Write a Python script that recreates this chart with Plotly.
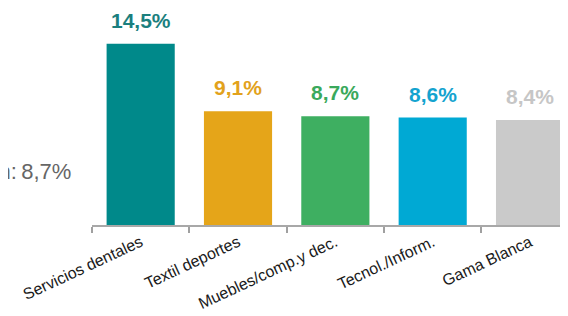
import plotly.graph_objects as go

categories = ["Servicios dentales", "Textil deportes", "Muebles/comp.y dec.", "Tecnol./Inform.", "Gama Blanca"]
values = [14.5, 9.1, 8.7, 8.6, 8.4]
labels = ["14,5%", "9,1%", "8,7%", "8,6%", "8,4%"]
bar_colors = ["#00898A", "#E5A519", "#3EAF61", "#00A9D4", "#CACACA"]
label_colors = ["#1B7F7E", "#E2A21C", "#3AA95C", "#14A3CF", "#C6C6C6"]
mean_text = "Media sección:\u20098,7%"

fig = go.Figure(go.Bar(x=categories, y=values, marker=dict(color=bar_colors, line=dict(width=0)),
                       hoverinfo="skip"))

for c, v, t, col in zip(categories, values, labels, label_colors):
    fig.add_annotation(x=c, y=v, text=f"<b>{t}</b>", showarrow=False, yanchor="bottom",
                       yshift=10, font=dict(size=21, color=col, family="Liberation Sans, Arial"))

fig.add_annotation(x=-0.05, xref="paper", y=4.25, yref="y", text=mean_text, showarrow=False,
                   xanchor="right", yanchor="middle", xshift=5,
                   font=dict(size=22, color="#666666", family="Liberation Sans, Arial"))

fig.update_layout(
    width=560, height=308,
    margin=dict(l=84, r=0, t=0, b=91, autoexpand=False),
    plot_bgcolor="white", paper_bgcolor="white",
    bargap=0.3, showlegend=False,
    font=dict(family="Liberation Sans, Arial", color="#222222"),
)
fig.update_xaxes(range=[-0.5, 4.39], tickangle=-25, tickson="boundaries", ticks="outside",
                 ticklen=6, tickcolor="#A0A0A0", tickwidth=2, showline=True, linecolor="#A8A8A8",
                 linewidth=2, tickfont=dict(size=16, color="#1A1A1A"), showgrid=False,
                 automargin=False)
fig.update_yaxes(range=[0, 17.36], visible=False, showgrid=False)

fig.write_html("out.html")
